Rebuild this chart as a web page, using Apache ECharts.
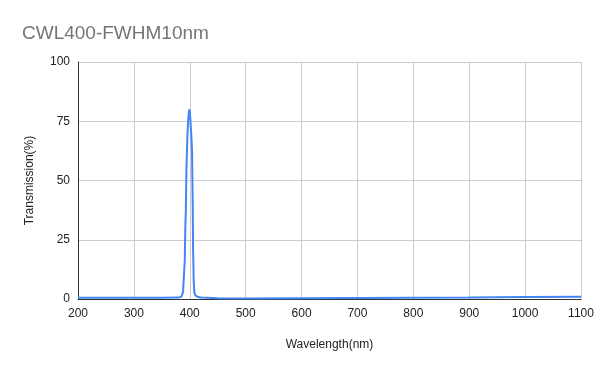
<!DOCTYPE html>
<html><head><meta charset="utf-8">
<script src="https://cdn.jsdelivr.net/npm/echarts@6/dist/echarts.min.js"></script>
<style>html,body{margin:0;padding:0;background:#fff}#c{width:600px;height:371px}</style>
</head><body><div id="c"></div>
<script>
const titleText = "CWL400-FWHM10nm";
const xName = "Wavelength(nm)";
const yName = "Transmission(%)";
const wavelengths = [200,250,300,350,380,385,388,390,391,392,393,394,395,396,397,398,399,400,401,402,403,404,405,406,407,408,410,415,420,450,500,600,700,800,900,1000,1100];
const transmission = [0.5,0.5,0.5,0.5,0.6,1,3,12,16,30,38,55,63,70,75,78,80,79,76,72,68,63,45,20,8,3,1.5,0.8,0.6,0.3,0.2,0.3,0.4,0.5,0.6,0.8,0.9];
const chart = echarts.init(document.getElementById('c'));
chart.setOption({
  animation:false,
  title:{text:titleText,left:17,top:19,textStyle:{color:'#757575',fontSize:19,fontWeight:'normal',fontFamily:'Liberation Sans, Arial'}},
  grid:{left:78,right:19,top:62,bottom:72},
  xAxis:{type:'value',min:200,max:1100,interval:100,name:xName,nameLocation:'middle',nameGap:40,
    nameTextStyle:{color:'#222',fontSize:12,fontFamily:'Liberation Sans, Arial'},
    axisLine:{show:true,onZero:false,lineStyle:{color:'#333',width:1}},axisTick:{show:false},
    axisLabel:{color:'#222',fontSize:12,fontFamily:'Liberation Sans, Arial',margin:9,formatter:v=>String(v)},
    splitLine:{show:true,lineStyle:{color:'#ccc'}}},
  yAxis:{type:'value',min:0,max:100,interval:25,name:yName,nameLocation:'middle',nameGap:42,
    nameTextStyle:{color:'#222',fontSize:12,fontFamily:'Liberation Sans, Arial'},
    axisLine:{show:true,lineStyle:{color:'#333',width:1}},axisTick:{show:false},
    axisLabel:{color:'#222',fontSize:12,fontFamily:'Liberation Sans, Arial',margin:8},
    splitLine:{show:true,lineStyle:{color:'#ccc'}}},
  series:[{type:'line',data:wavelengths.map((w,i)=>[w,transmission[i]]),showSymbol:false,
    lineStyle:{color:'#4285F4',width:2},itemStyle:{color:'#4285F4'}}]
});
</script></body></html>
